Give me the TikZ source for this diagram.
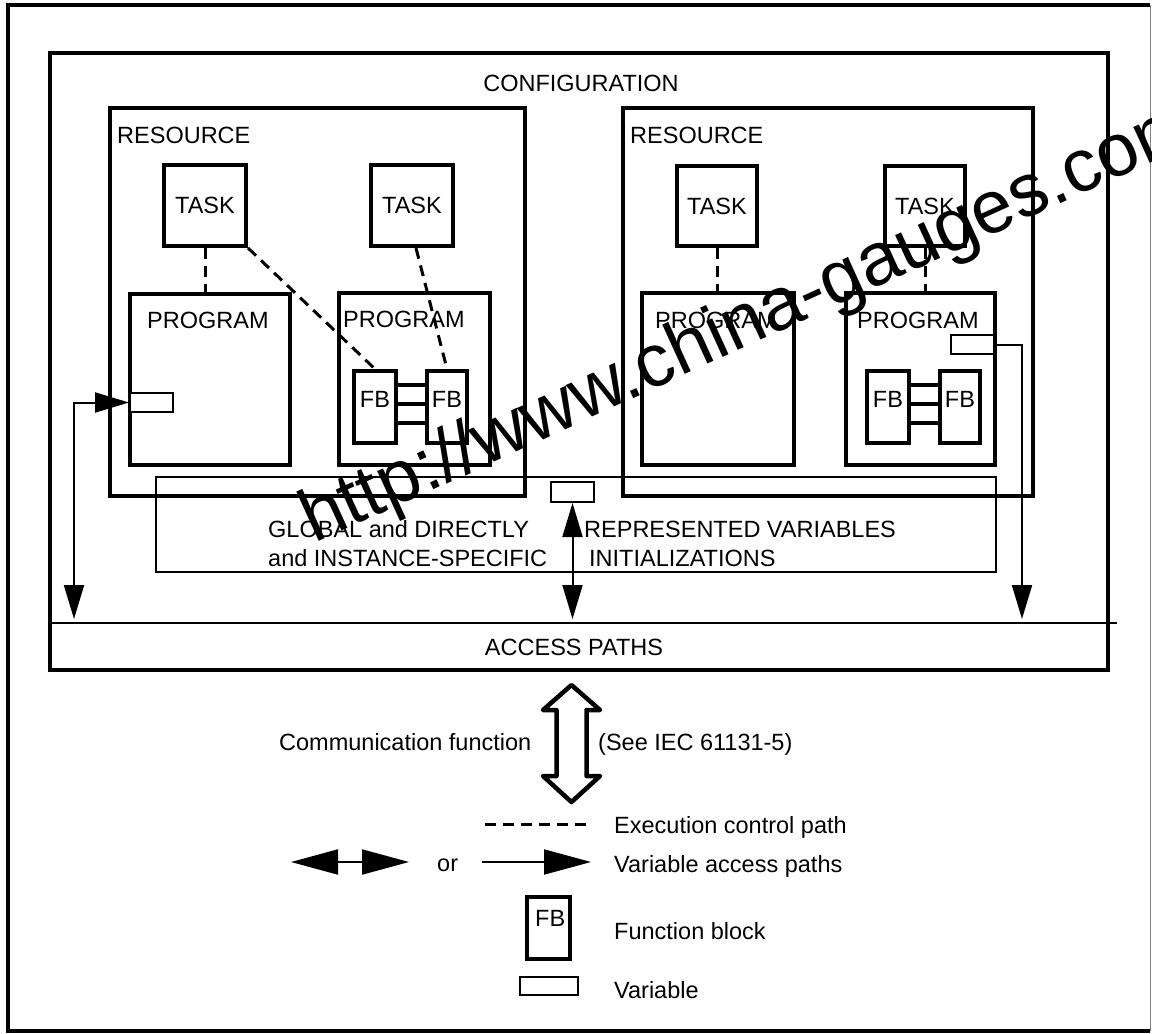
\documentclass[tikz,border=0pt]{standalone}
\usepackage{fontspec}
\setmainfont{Liberation Sans}
\usetikzlibrary{arrows.meta,calc}
\begin{document}
\begin{tikzpicture}[x=1pt,y=-1pt,font=\fontsize{23.5pt}{28pt}\selectfont,
  thickbox/.style={draw,line width=4pt,inner sep=0pt,rectangle},
  thinbox/.style={draw,line width=2pt,inner sep=0pt,rectangle},
  lbl/.style={inner sep=0pt,anchor=base west},
  clbl/.style={inner sep=0pt,anchor=base},
  ctrl/.style={line width=3pt,dash pattern=on 11pt off 7pt},
  vap/.style={line width=2pt},
  >={Triangle[length=34pt,width=20pt]},
  bighead/.tip={Triangle[length=47pt,width=25pt]},
  wm/.style={inner sep=0pt,anchor=base west,rotate=24.5,font=\fontsize{74.7pt}{80pt}\selectfont}]
\useasboundingbox (0,0) rectangle (1152,1034);
% outer frame
\draw[line width=4.5pt] (1150,5) -- (8,5) -- (8,1031) -- (1150,1031);
\draw[line width=1pt,gray] (1150,5) -- (1150,1031);
% configuration
\node[thickbox,minimum width=1058pt,minimum height=617pt] (config) at (579,361.5) {};
\node[clbl] (configlbl) at (581,91) {CONFIGURATION};
% resources
\node[thickbox,minimum width=415pt,minimum height=388pt] (res1) at (317.5,302) {};
\node[thickbox,minimum width=410pt,minimum height=388pt] (res2) at (828,302) {};
\node[lbl] (reslbl1) at (117,143) {RESOURCE};
\node[lbl] (reslbl2) at (630,143) {RESOURCE};
% tasks
\node[thickbox,minimum width=82pt,minimum height=81pt] (task1) at (205,205.5) {TASK};
\node[thickbox,minimum width=82pt,minimum height=81pt] (task2) at (412,205.5) {TASK};
\node[thickbox,minimum width=80pt,minimum height=80pt] (task3) at (717,206) {TASK};
\node[thickbox,minimum width=80pt,minimum height=80pt] (task4) at (925,206) {TASK};
% programs
\node[thickbox,minimum width=160pt,minimum height=171pt] (prog1) at (210,379.5) {};
\node[thickbox,minimum width=151pt,minimum height=172pt] (prog2) at (414.5,379) {};
\node[thickbox,minimum width=152pt,minimum height=172pt] (prog3) at (718,379) {};
\node[thickbox,minimum width=149pt,minimum height=172pt] (prog4) at (920.5,379) {};
\node[lbl] (proglbl1) at (147,328) {PROGRAM};
\node[lbl] (proglbl2) at (343,327) {PROGRAM};
\node[lbl] (proglbl3) at (655,328) {PROGRAM};
\node[lbl] (proglbl4) at (857,328) {PROGRAM};
% function blocks
\node[thickbox,minimum width=42pt,minimum height=72pt] (fb1) at (375,407) {};
\node[thickbox,minimum width=40pt,minimum height=72pt] (fb2) at (447,407) {};
\node[thickbox,minimum width=42pt,minimum height=72pt] (fb3) at (888,407) {};
\node[thickbox,minimum width=40pt,minimum height=72pt] (fb4) at (960,407) {};
\node[clbl] (fblbl1) at (375,407) {FB};
\node[clbl] (fblbl2) at (447,407) {FB};
\node[clbl] (fblbl3) at (888,407) {FB};
\node[clbl] (fblbl4) at (960,407) {FB};
\foreach \d in {16,35,54} {
  \draw[line width=4pt] ($(fb1.north east)+(0,\d)$) -- ($(fb2.north west)+(0,\d)$);
  \draw[line width=4pt] ($(fb3.north east)+(0,\d)$) -- ($(fb4.north west)+(0,\d)$);
}
% execution control paths
\draw[ctrl] (task1.south) -- (task1.south |- prog1.north);
\draw[ctrl] (task1.south east) -- (fb1.north);
\draw[ctrl] ([xshift=4pt]task2.south) -- (fb2.north);
\draw[ctrl] (task3.south) -- (task3.south |- prog3.north);
\draw[ctrl] (task4.south) -- (task4.south |- prog4.north);
% global variables box
\node[thinbox,minimum width=840pt,minimum height=95pt] (global) at (576,524.5) {};
\node[lbl] (gl1) at (268,537) {GLOBAL and DIRECTLY};
\node[lbl] (gl2) at (584,537) {REPRESENTED VARIABLES};
\node[lbl] (gl3) at (268,566) {and INSTANCE-SPECIFIC};
\node[lbl] (gl4) at (589,566) {INITIALIZATIONS};
% variables
\node[thinbox,fill=white,minimum width=43pt,minimum height=19pt] (var1) at (151.5,402.5) {};
\node[thinbox,fill=white,minimum width=43pt,minimum height=19pt] (var2) at (972.5,344.5) {};
\node[thinbox,fill=white,minimum width=43pt,minimum height=20pt] (var3) at (572.5,492) {};
% access paths
\coordinate (accL) at (50,623);
\coordinate (accR) at (1117,623);
\draw[line width=2pt] (accL) -- (accR);
\node[clbl] (acclbl) at (574,655) {ACCESS PATHS};
% variable access arrows
\coordinate (a1) at (74,619);
\coordinate (a2) at (1022,619);
\coordinate (a3) at (572.5,619);
\draw[vap,<->] (var1.west) -| (a1);
\draw[vap,->] (var2.east) -| (a2);
\draw[vap,<->] (var3.south) -- (a3);
% communication function arrow
\draw[line width=4.5pt,line join=round,fill=white]
  (571.5,685) -- (600,710) -- (586.5,710) -- (586.5,776) -- (600,776) -- (571.5,802)
  -- (543,776) -- (556.5,776) -- (556.5,710) -- (543,710) -- cycle;
\node[lbl] (comlbl) at (279,750) {Communication function};
\node[lbl] (iec) at (598,750) {(See IEC 61131-5)};
% legend
\coordinate (l3a) at (485,824);
\coordinate (l3b) at (591,824);
\draw[ctrl] (l3a) -- (l3b);
\node[lbl] (leg1) at (614,833) {Execution control path};
\coordinate (l1a) at (291,862);
\coordinate (l1b) at (409,862);
\draw[line width=2pt,bighead-bighead] (l1a) -- (l1b);
\node[lbl] (orlbl) at (437,871) {or};
\coordinate (l2a) at (482,862);
\coordinate (l2b) at (591,862);
\draw[line width=2pt,-bighead] (l2a) -- (l2b);
\node[lbl] (leg2) at (614,872) {Variable access paths};
\node[thickbox,minimum width=43pt,minimum height=62pt] (legfb) at (548.5,928) {};
\node[lbl] (legfblbl) at (535,926) {FB};
\node[lbl] (leg3) at (614,939) {Function block};
\node[thinbox,minimum width=58pt,minimum height=18pt] (legvar) at (549,986) {};
\node[lbl] (leg4) at (614,998) {Variable};
% watermark
\begin{scope}
\clip (0,0) rectangle (1152,1034);
\node[wm] (watermark) at (314,544) {http://www.china-gauges.com};
\end{scope}
\end{tikzpicture}
\end{document}
